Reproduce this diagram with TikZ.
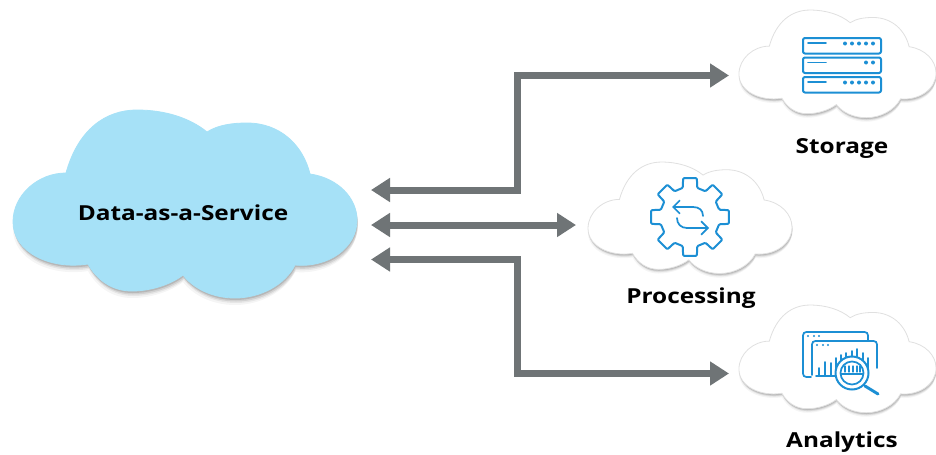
\documentclass[tikz,border=0pt]{standalone}
\usepackage{fontspec}
\setmainfont{Open Sans}
\usetikzlibrary{arrows.meta}
\definecolor{flowgray}{HTML}{6F7476}
\definecolor{iconblue}{HTML}{1C8FD4}
\definecolor{skyfill}{HTML}{A6E1F7}
\newcommand{\cloudpath}{(66,173) .. controls (78,130) and (105,110) .. (137,110) .. controls (165,110) and (190,118) .. (207,132) .. controls (218,125) and (232,123) .. (247,123) .. controls (280,123) and (303,145) .. (310,174) .. controls (338,178) and (357,198) .. (357,220) .. controls (357,248) and (328,268) .. (295,265) .. controls (285,285) and (260,298) .. (235,298) .. controls (212,298) and (193,288) .. (183,275) .. controls (170,285) and (150,291) .. (132,291) .. controls (112,291) and (97,280) .. (88,264) .. controls (50,270) and (13,252) .. (13,222) .. controls (13,195) and (38,173) .. (66,173) -- cycle}
% #1 shift x, #2 shift y, #3 scale, #4 fill, #5 outline
\newcommand{\cloudshape}[5]{%
  \begin{scope}[shift={(#1,#2)},scale=#3]
    \fill[black,opacity=.04] [shift={(0,7)}] \cloudpath;
    \fill[black,opacity=.06] [shift={(1,5)}] \cloudpath;
    \fill[black,opacity=.09] [shift={(1,3.5)}] \cloudpath;
    \fill[black,opacity=.12] [shift={(.5,2)}] \cloudpath;
    \path[fill=#4,draw=#5,line width=.6pt] \cloudpath;
  \end{scope}}
\tikzset{
  flow/.style={draw=flowgray,line width=5.25pt,line join=miter,
    arrows={-Triangle[length=14.25pt,width=17.25pt,fill=flowgray]}},
  flowboth/.style={flow,arrows={Triangle[length=14.25pt,width=17.25pt,fill=flowgray]-Triangle[length=14.25pt,width=17.25pt,fill=flowgray]}},
  label/.style={font=\bfseries\fontsize{15.5}{18}\selectfont,text=black,inner sep=0pt,xscale=1.18,transform shape},
  icon/.style={draw=iconblue,line width=1.5pt,line join=round,line cap=round},
  iconthin/.style={draw=iconblue,line width=1.3pt,line cap=round},
  icontip/.style={arrows={-Straight Barb[length=5pt,width=10pt,line width=1.3pt]}}
}
\begin{document}
\begin{tikzpicture}[x=.75pt,y=-.75pt]
\useasboundingbox (0,0) rectangle (936,454);
\clip (0,0) rectangle (936,454);
\fill[white] (0,0) rectangle (936,454);

% clouds
\cloudshape{0}{0}{1}{skyfill}{skyfill}
\cloudshape{731.5}{-53}{.573}{white}{black!12}
\cloudshape{580.3}{96.8}{.593}{white}{black!12}
\cloudshape{731.5}{242}{.573}{white}{black!12}

% labels
\node[label] (daas) at (183,213) {Data-as-a-Service};
\node[label] (storage) at (842,148) {Storage};
\node[label] (processing) at (691,298.5) {Processing};
\node[label] (analytics) at (842,442.5) {Analytics};

% connector ends
\coordinate (daasTop) at (371,190);
\coordinate (daasMid) at (371,225);
\coordinate (daasLow) at (371,259.5);
\coordinate (cornerA) at (517.5,190);
\coordinate (cornerB) at (517.5,75.5);
\coordinate (cornerC) at (517.5,259.5);
\coordinate (cornerD) at (517.5,373.5);
\coordinate (storeIn) at (729,75.5);
\coordinate (procIn) at (576,225);
\coordinate (anaIn) at (729,373.5);

\draw[flow] (cornerB) -- (cornerA) -- (daasTop);
\draw[flow] (cornerA) -- (cornerB) -- (storeIn);
\draw[flowboth] (daasMid) -- (procIn);
\draw[flow] (cornerD) -- (cornerC) -- (daasLow);
\draw[flow] (cornerC) -- (cornerD) -- (anaIn);

% storage icon
\foreach \t in {38,57.5,77}{
  \draw[icon,rounded corners=1.5pt] (803,\t) rectangle (881,\t+15.5);
  \draw[iconthin] (808,\t+5) -- (826,\t+5);
}
\foreach \t in {38,77}{\foreach \d in {0,1,2,3,4}{
  \fill[iconblue] (845+\d*7,\t+5.5) circle (2);}}
\foreach \d in {3,4}{\fill[iconblue] (845+\d*7,62.5) circle (2);}

% processing icon
\begin{scope}[shift={(690,217)}]
  \draw[icon,rounded corners=.8pt]
    (-14:30) \foreach \a in {0,45,...,315}{
      -- (\a-14:30) -- (\a-10:39.5) -- (\a+10:39.5) -- (\a+14:30)} -- cycle;
\end{scope}
\coordinate (gearUpA) at (703,216);
\coordinate (gearUpB) at (672,207);
\coordinate (gearLoA) at (677,218);
\coordinate (gearLoB) at (709,228);
\draw[iconthin,icontip] (gearUpA) .. controls (703,210) and (699,207) .. (693,207) -- (gearUpB);
\draw[iconthin,icontip] (gearLoA) .. controls (677,224) and (681,228) .. (687,228) -- (gearLoB);

% analytics icon
\draw[iconthin,rounded corners=2.5pt] (811,377) -- (803,377) -- (803,332) -- (868,332) -- (868,340);
\foreach \x in {808,814,819}{\fill[iconblue] (\x,336) circle (1.2);}
\draw[iconthin,rounded corners=2.5pt] (812,375) -- (812,341) -- (877,341) -- (877,368);
\foreach \x in {817,823,828}{\fill[iconblue] (\x,345) circle (1.2);}
\foreach \x/\t/\b in {819/368/375,825/362/375,831/363/375,836/358/372,841/355/366,846/353/364,852/351/364,857/349/364,863/353/364,868/358/372}{
  \draw[iconthin] (\x,\t) -- (\x,\b);
}
\draw[iconthin] (816,376) -- (836,376);
\fill[white] (852,373) circle (16.5);
\draw[icon] (852,373) circle (16.5);
\draw[iconthin] (852,373) circle (11.5);
\foreach \x in {845,849,853,857,860}{\draw[iconthin,line width=.9pt] (\x,366) -- (\x,372);}
\draw[iconthin] (841,374) -- (863,374);
\draw[icon,line width=2.2pt] (865,386) -- (878,394);
\end{tikzpicture}
\end{document}
